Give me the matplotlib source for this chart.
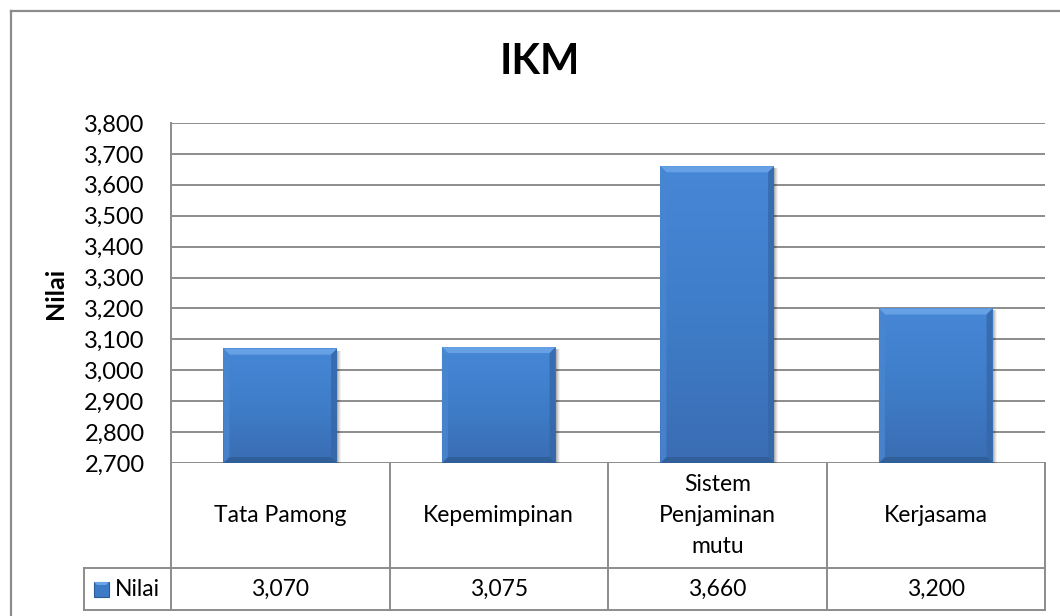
import matplotlib
matplotlib.use("Agg")
import matplotlib.pyplot as plt
import numpy as np
from matplotlib.patches import Polygon, Rectangle
from matplotlib.colors import LinearSegmentedColormap
from matplotlib.lines import Line2D
from matplotlib.ticker import FuncFormatter, MultipleLocator
import matplotlib.transforms as mtransforms

# ---- data ----
categories = ["Tata Pamong", "Kepemimpinan", "Sistem\nPenjaminan\nmutu", "Kerjasama"]
values = [3070, 3075, 3660, 3200]
value_labels = ["3,070", "3,075", "3,660", "3,200"]
series_name = "Nilai"
title = "IKM"
y_min, y_max, y_step = 2700, 3800, 100

FONT = "Lato"
W, H = 1060, 616
fig = plt.figure(figsize=(W / 100, H / 100), dpi=100)
fig.patch.set_facecolor("white")

def fx(px):
    return px / W

def fy(py):
    return 1 - py / H

# plot area in pixels
PL, PR, PT, PB = 171, 1045, 123, 463
ax = fig.add_axes([fx(PL), fy(PB), (PR - PL) / W, (PB - PT) / H])
ax.set_xlim(-0.5, len(categories) - 0.5)
ax.set_ylim(y_min, y_max)
ax.yaxis.set_major_locator(MultipleLocator(y_step))
ax.yaxis.set_major_formatter(FuncFormatter(lambda v, p: f"{int(round(v)):,}"))
ax.set_xticks([])
ax.tick_params(axis="y", length=0, pad=19, labelsize=17)
for lab in ax.get_yticklabels():
    lab.set_fontfamily(FONT)
ax.grid(axis="y", color="#8c8c8c", linewidth=1.4)
ax.set_axisbelow(True)
for s in ["top", "right", "bottom"]:
    ax.spines[s].set_visible(False)
ax.spines["left"].set_color("#8c8c8c")
ax.spines["left"].set_linewidth(1.4)
ax.set_ylabel("Nilai", fontsize=18, fontweight="bold", fontfamily=FONT, labelpad=12)

xs = np.arange(len(categories))
bars = ax.bar(xs, [v - y_min for v in values], bottom=y_min, width=0.52,
              color="#3d7bc6", edgecolor="none", zorder=3)

# gradient + bevel decoration for bars
cmap = LinearSegmentedColormap.from_list("barg", ["#3a6db3", "#3f7dc9", "#4687d6"])
to_px = ax.transData.transform
to_data = ax.transData.inverted().transform
bev = 6
for b in bars:
    l, btm = b.get_x(), b.get_y()
    r, top = l + b.get_width(), btm + b.get_height()
    grad = np.linspace(0, 1, 100).reshape(-1, 1)
    ax.imshow(grad, extent=[l, r, btm, top], origin="lower", aspect="auto",
              cmap=cmap, zorder=3.1)
    (x0, y0), (x1, y1) = to_px((l, btm)), to_px((r, top))
    # shadow
    for k, a in [(4, 0.05), (3, 0.07), (2, 0.09), (1, 0.11)]:
        sp = [(x0 + 1, y0 - k), (x1 + k, y0 - k), (x1 + k, y1 - 2), (x0 + 1, y1 - 2)]
        ax.add_patch(Polygon(to_data(sp), closed=True, facecolor="black",
                             alpha=a, edgecolor="none", zorder=2.9))
    outer = [(x0, y1), (x1, y1), (x1, y0), (x0, y0)]
    inner = [(x0 + bev, y1 - bev), (x1 - bev, y1 - bev), (x1 - bev, y0 + bev), (x0 + bev, y0 + bev)]
    faces = [
        ([outer[0], outer[1], inner[1], inner[0]], "#6aa3e6", 0.95),  # top
        ([outer[1], outer[2], inner[2], inner[1]], "#3567a8", 0.8),   # right
        ([outer[2], outer[3], inner[3], inner[2]], "#2f5d96", 0.85),  # bottom
        ([outer[3], outer[0], inner[0], inner[3]], "#4a86d0", 0.8),   # left
    ]
    for pts, col, a in faces:
        ax.add_patch(Polygon(to_data(pts), closed=True, facecolor=col,
                             edgecolor="none", zorder=3.2, alpha=a))
ax.set_xlim(-0.5, len(categories) - 0.5)
ax.set_ylim(y_min, y_max)

# ---- title ----
fig.text(fx(540), fy(62), title, ha="center", va="center", fontsize=30,
         fontweight="bold", fontfamily=FONT)

# ---- outer chart border ----
lc = "#8c8c8c"
fig.add_artist(Line2D([fx(11), fx(11)], [fy(11), 0], color=lc, lw=1.6, transform=fig.transFigure))
fig.add_artist(Line2D([fx(11), 1], [fy(11), fy(11)], color=lc, lw=1.6, transform=fig.transFigure))

# ---- data table ----
HR_B, VR_B, LEG_L = 568, 610, 84
def tl(xp, yp, **kw):
    fig.add_artist(Line2D([fx(v) for v in xp], [fy(v) for v in yp], color=lc, lw=1.4,
                          transform=fig.transFigure, **kw))

tl([PL, PR], [HR_B, HR_B])
tl([LEG_L, PR], [VR_B, VR_B])
tl([LEG_L, PL], [HR_B, HR_B])
tl([LEG_L, LEG_L], [HR_B, VR_B])
tl([PR, PR], [PB, VR_B])
bounds = [to_px((i - 0.5, y_min))[0] for i in range(len(categories) + 1)]
for bx in bounds[:-1]:
    tl([bx, bx], [PB, VR_B])

blend = mtransforms.blended_transform_factory(ax.transData, fig.transFigure)
for i, (c, v) in enumerate(zip(categories, value_labels)):
    fig.text(i, fy((PB + HR_B) / 2), c, transform=blend, ha="center", va="center",
             fontsize=16.5, fontfamily=FONT, linespacing=1.6)
    fig.text(i, fy((HR_B + VR_B) / 2), v, transform=blend, ha="center", va="center",
             fontsize=16.5, fontfamily=FONT)

# legend key
kx0, kx1, ky0, ky1 = 94, 109, 582, 597
fig.add_artist(Rectangle((fx(kx0), fy(ky1)), fx(kx1 - kx0), (ky1 - ky0) / H,
                         transform=fig.transFigure, facecolor="#3d7bc6", edgecolor="#2d5a93", lw=0.8))
fig.add_artist(Polygon([(fx(kx0), fy(ky0)), (fx(kx1), fy(ky0)), (fx(kx1 - 3), fy(ky0 + 3)), (fx(kx0 + 3), fy(ky0 + 3))],
                       closed=True, transform=fig.transFigure, facecolor="#6aa3e6", edgecolor="none"))
fig.text(fx(115), fy((HR_B + VR_B) / 2), series_name, ha="left", va="center",
         fontsize=16.5, fontfamily=FONT)

fig.savefig("out.png", dpi=100, facecolor="white")
